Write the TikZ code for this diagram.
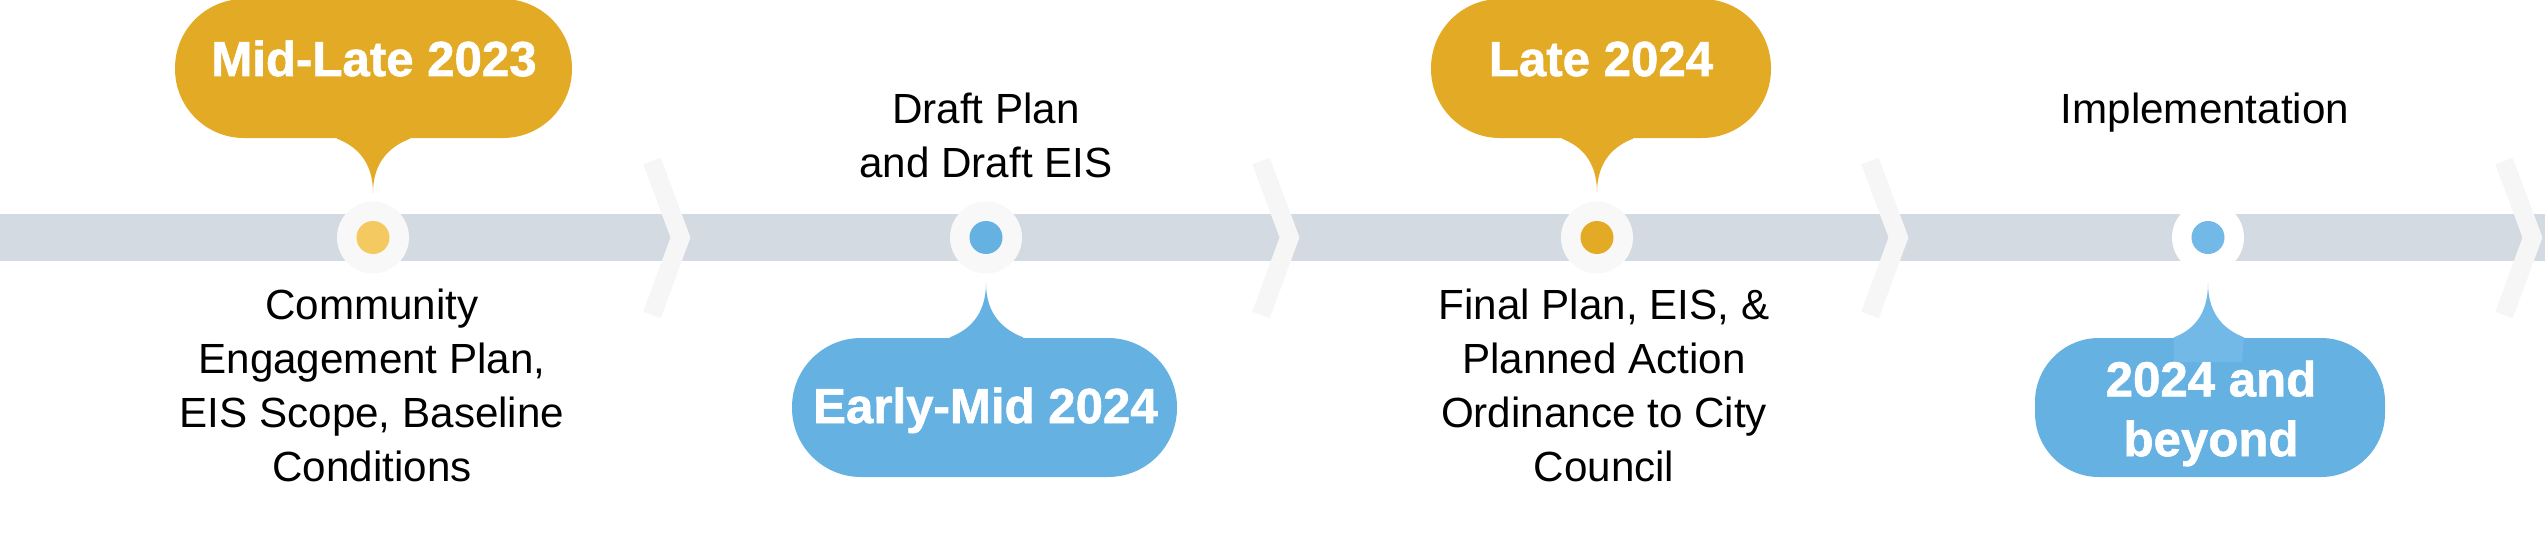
\documentclass[tikz,border=0pt]{standalone}
\usepackage{fontspec}
\setmainfont{Liberation Sans}[BoldFeatures={FakeBold=1.2}]
\usetikzlibrary{positioning,calc}
\usepackage{xcolor}
\definecolor{gold}{HTML}{E3AB25}
\definecolor{paleGold}{HTML}{F3C960}
\definecolor{sky}{HTML}{64B1E2}
\definecolor{paleSky}{HTML}{73B9E7}
\definecolor{barGrey}{HTML}{D3DAE2}
\definecolor{ringGrey}{HTML}{F8F8F8}
\definecolor{chevGrey}{HTML}{F6F6F7}

\begin{document}
\begin{tikzpicture}[
        ring/.style={circle, fill=ringGrey, minimum size=7.2mm, inner sep=0pt},
        dot/.style={circle, minimum size=3.3mm, inner sep=0pt},
        bubble/.style={rectangle, rounded corners=6.9mm, minimum height=13.9mm, inner sep=0pt},
        chev/.style={draw=chevGrey, line width=1.87mm, line join=miter},
        stage/.style={font=\fontsize{12}{15.4}\selectfont, align=center, inner sep=0pt},
        when/.style={font=\fontsize{14}{17}\selectfont\bfseries, text=white, align=center, inner sep=0pt}]

        \useasboundingbox (0,0) rectangle (25.45,-5.6);

        % Timeline bar
        \fill[barGrey] (0,-2.14) rectangle (25.45,-2.61);

        % Chevrons along the bar
        \draw[chev] (6.52,-1.61) -- (6.805,-2.375) -- (6.52,-3.15);
        \draw[chev] (12.61,-1.61) -- (12.895,-2.375) -- (12.61,-3.15);
        \draw[chev] (18.70,-1.61) -- (18.985,-2.375) -- (18.70,-3.15);
        \draw[chev] (25.04,-1.61) -- (25.325,-2.375) -- (25.04,-3.15);

        % Milestone markers
        \node[ring] (m1) at (3.73,-2.375) {};
        \node[ring] (m2) at (9.86,-2.375) {};
        \node[ring] (m3) at (15.97,-2.375) {};
        \node[ring, fill=white] (m4) at (22.08,-2.375) {};
        \node[dot, fill=paleGold] (m1dot) at (m1) {};
        \node[dot, fill=sky] (m2dot) at (m2) {};
        \node[dot, fill=gold] (m3dot) at (m3) {};
        \node[dot, fill=paleSky] (m4dot) at (m4) {};

        % Date bubbles
        \node[bubble, fill=gold, minimum width=39.7mm] (b1) at (3.735,-0.685) {};
        \node[bubble, fill=sky, minimum width=38.5mm] (b2) at (9.845,-4.075) {};
        \node[bubble, fill=gold, minimum width=34mm] (b3) at (16.01,-0.685) {};
        \node[bubble, fill=sky, minimum width=35mm, rounded corners=6.4mm] (b4) at (22.10,-4.075) {};

        % Bubble pointers
        \coordinate (p1) at ($(m1)+(0,0.445)$);
        \coordinate (p2) at ($(m2)+(0,-0.455)$);
        \coordinate (p3) at ($(m3)+(0,0.445)$);
        \coordinate (p4) at ($(m4)+(0,-0.455)$);
        \fill[gold] ($(b1.south)+(-0.365,0.03)$) -- ($(b1.south)+(-0.365,0)$)
            .. controls +(0.18,-0.07) and +(0,0.33) .. (p1)
            .. controls +(0,0.33) and +(-0.18,-0.07) .. ($(b1.south)+(0.365,0)$) -- ($(b1.south)+(0.365,0.03)$) -- cycle;
        \fill[gold] ($(b3.south)+(-0.39,0.03)$) -- ($(b3.south)+(-0.39,0)$)
            .. controls +(0.18,-0.07) and +(0,0.33) .. (p3)
            .. controls +(0,0.33) and +(-0.18,-0.07) .. ($(b3.south)+(0.32,0)$) -- ($(b3.south)+(0.32,0.03)$) -- cycle;
        \fill[sky] ($(b2.north)+(-0.345,-0.03)$) -- ($(b2.north)+(-0.345,0)$)
            .. controls +(0.18,0.07) and +(0,-0.33) .. (p2)
            .. controls +(0,-0.33) and +(-0.18,0.07) .. ($(b2.north)+(0.385,0)$) -- ($(b2.north)+(0.385,-0.03)$) -- cycle;
        \fill[paleSky] ($(b4.north)+(-0.36,-0.25)$) -- ($(b4.north)+(-0.36,0)$)
            .. controls +(0.18,0.07) and +(0,-0.33) .. (p4)
            .. controls +(0,-0.33) and +(-0.18,0.07) .. ($(b4.north)+(0.34,0)$) -- ($(b4.north)+(0.32,-0.25)$) -- cycle;

        % Dates
        \node[when, anchor=base] (d1) at (3.74,-0.76) {Mid-Late 2023};
        \node[when, anchor=base] (d2) at (9.855,-4.23) {Early-Mid 2024};
        \node[when, anchor=base] (d3) at (16.01,-0.76) {Late 2024};
        \node[when, anchor=north] (d4) at (22.11,-3.60) {2024 and\\beyond};

        % Stage descriptions
        \node[stage, anchor=north] (s1) at (3.72,-2.88) {Community\\Engagement Plan,\\EIS Scope, Baseline\\Conditions};
        \node[stage, anchor=north] (s2) at (9.86,-0.92) {Draft Plan\\and Draft EIS};
        \node[stage, anchor=north] (s3) at (16.04,-2.88) {Final Plan, EIS, \&\\Planned Action\\Ordinance to City\\Council};
        \node[stage, anchor=north] (s4) at (22.05,-0.92) {Implementation};

    \end{tikzpicture}
\end{document}
